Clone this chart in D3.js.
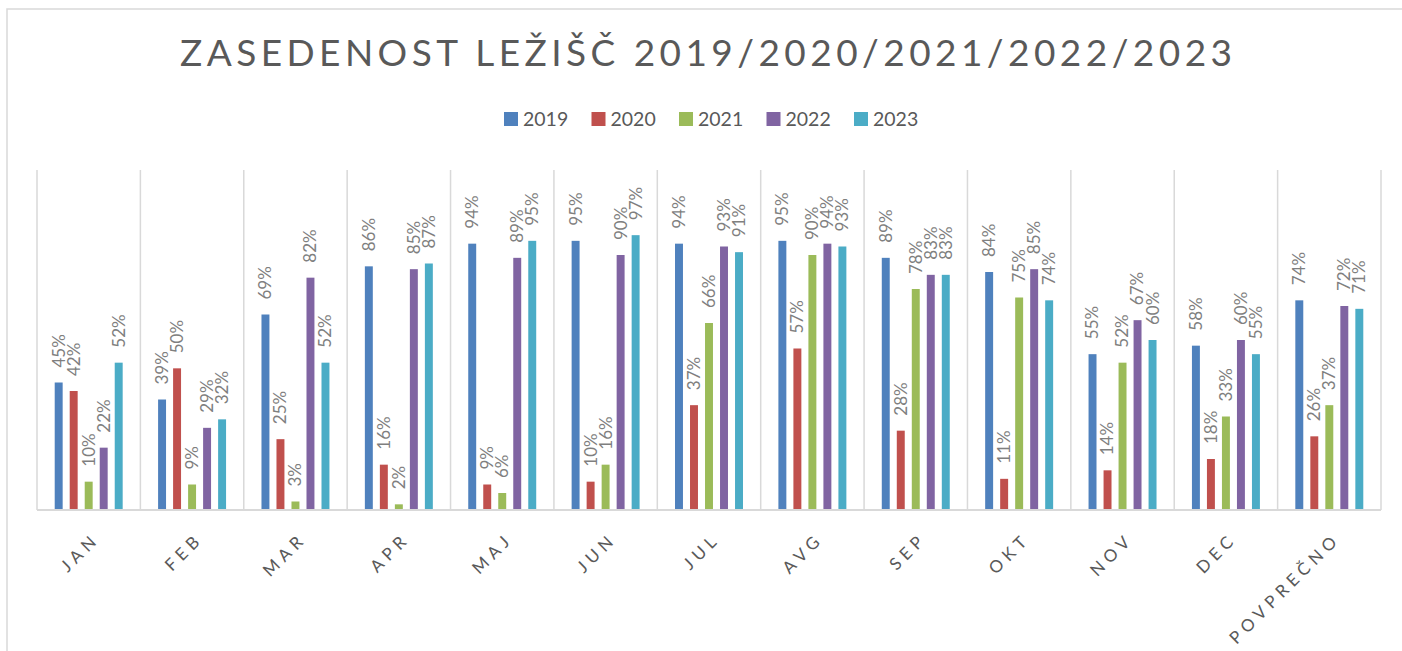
<!DOCTYPE html>
<meta charset="utf-8">
<style>
body { margin: 0; background: #fff; }
text { font-family: Lato, "Open Sans", sans-serif; }
</style>
<body>
<div id="chart"></div>
</body>
<script src="https://cdn.jsdelivr.net/npm/d3@7"></script>
<script>

// data (percent)
var months = ["JAN", "FEB", "MAR", "APR", "MAJ", "JUN", "JUL", "AVG", "SEP", "OKT", "NOV", "DEC", "POVPREČNO"];
var years = ["2019", "2020", "2021", "2022", "2023"];
var v2019 = [45, 39, 69, 86, 94, 95, 94, 95, 89, 84, 55, 58, 74];
var v2020 = [42, 50, 25, 16, 9, 10, 37, 57, 28, 11, 14, 18, 26];
var v2021 = [10, 9, 3, 2, 6, 16, 66, 90, 78, 75, 52, 33, 37];
var v2022 = [22, 29, 82, 85, 89, 90, 93, 94, 83, 85, 67, 60, 72];
var v2023 = [52, 32, 52, 87, 95, 97, 91, 93, 83, 74, 60, 55, 71];
var series = [v2019, v2020, v2021, v2022, v2023];

var colors = ["#4F81BD", "#C0504D", "#9BBB59", "#8064A2", "#4BACC6"];

var width = 1402, height = 651;

var svg = d3.select("#chart").append("svg")
    .attr("width", width)
    .attr("height", height);

// chart frame
svg.append("rect")
    .attr("x", 7).attr("y", 9)
    .attr("width", width + 20).attr("height", height + 20)
    .attr("fill", "none")
    .attr("stroke", "#d9d9d9")
    .attr("stroke-width", 1.5);

// title
svg.append("text")
    .attr("x", 180).attr("y", 66)
    .attr("textLength", 1052)
    .attr("lengthAdjust", "spacing")
    .style("font-size", "37px")
    .attr("fill", "#595959")
    .text("ZASEDENOST LEŽIŠČ 2019/2020/2021/2022/2023");

// legend
var legend = svg.append("g").selectAll("g")
    .data(years)
    .enter().append("g")
    .attr("transform", function(d, i) { return "translate(" + (504 + i * 87.5) + ",112)"; });

legend.append("rect")
    .attr("width", 14).attr("height", 14)
    .attr("fill", function(d, i) { return colors[i]; });

legend.append("text")
    .attr("x", 19).attr("y", 14)
    .style("font-size", "19.5px")
    .attr("fill", "#595959")
    .text(function(d) { return d; });

// scales
var x0 = d3.scaleBand()
    .domain(months)
    .range([37, 1381]);

var x1 = d3.scaleBand()
    .domain(years)
    .range([0, x0.bandwidth()])
    .paddingInner(0.47)
    .paddingOuter(1.18);

var y = d3.scaleLinear()
    .domain([0, 1.2])
    .range([510, 170]);

// vertical gridlines between categories
var bounds = months.map(function(m) { return x0(m); }).concat([x0.range()[1]]);
svg.append("g").selectAll("line")
    .data(bounds)
    .enter().append("line")
    .attr("x1", function(d) { return d; })
    .attr("x2", function(d) { return d; })
    .attr("y1", y.range()[1])
    .attr("y2", y.range()[0])
    .attr("stroke", "#d9d9d9")
    .attr("stroke-width", 1.5);

// bars
var rows = [];
months.forEach(function(m, i) {
    years.forEach(function(yr, j) {
        rows.push({ month: m, year: yr, idx: j, value: series[j][i] / 100 });
    });
});

var bar = svg.append("g").selectAll("g")
    .data(rows)
    .enter().append("g")
    .attr("transform", function(d) { return "translate(" + (x0(d.month) + x1(d.year)) + ",0)"; });

bar.append("rect")
    .attr("x", 0)
    .attr("width", x1.bandwidth())
    .attr("y", function(d) { return y(d.value); })
    .attr("height", function(d) { return y(0) - y(d.value); })
    .attr("fill", function(d) { return colors[d.idx]; });

var fmt = d3.format(".0%");
bar.append("text")
    .attr("transform", function(d) {
        return "translate(" + (x1.bandwidth() / 2) + "," + (y(d.value) - 15) + ") rotate(-90)";
    })
    .attr("dy", "0.35em")
    .style("font-size", "17px")
    .attr("fill", "#7f7f7f")
    .text(function(d) { return fmt(d.value); });

// x axis line
svg.append("line")
    .attr("x1", x0.range()[0]).attr("x2", x0.range()[1])
    .attr("y1", y(0)).attr("y2", y(0))
    .attr("stroke", "#d9d9d9")
    .attr("stroke-width", 2);

// category labels
svg.append("g").selectAll("text")
    .data(months)
    .enter().append("text")
    .attr("transform", function(d) {
        return "translate(" + (x0(d) + x0.bandwidth() / 2 + 12) + ",540) rotate(-45)";
    })
    .attr("text-anchor", "end")
    .style("font-size", "17px")
    .style("letter-spacing", "5px")
    .attr("fill", "#595959")
    .text(function(d) { return d; });

</script>
